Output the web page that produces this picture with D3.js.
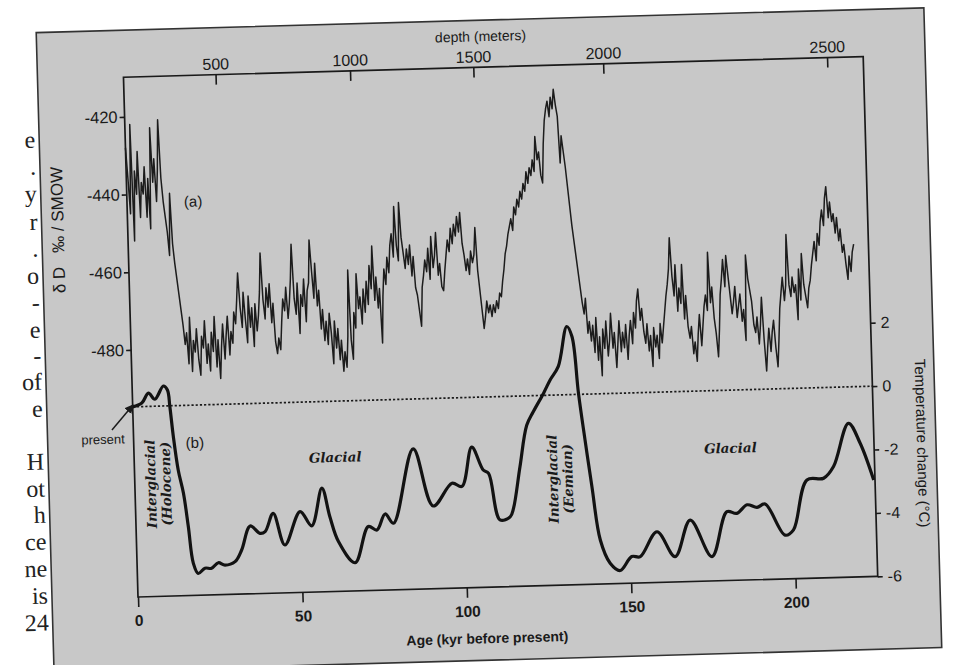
<!DOCTYPE html>
<html><head><meta charset="utf-8">
<script src="https://cdnjs.cloudflare.com/ajax/libs/d3/7.8.5/d3.min.js"></script>
<style>body{margin:0;background:#fff}svg{display:block}</style>
</head><body>
<svg id="c" width="958" height="665"></svg>
<script>
// ---------- data ----------
const ageTicks = [0, 50, 100, 150, 200];
const depthTicks = [500, 1000, 1500, 2000, 2500];
const depthTickAges = [28.0, 68.9, 106.4, 145.9, 214.0];
const dDTicks = [-420, -440, -460, -480];
const tempTicks = [2, 0, -2, -4, -6];

const dDAgeStart = 0, dDAgeStep = 0.5;
const dDValues = [
-428,-436,-445,-422,-452,-434,-440,-429,-446,-437,
-440,-433,-446,-436,-449,-423,-437,-431,-442,-434,
-421,-436,-442,-446,-450,-456,-440,-453,-458,-462,
-466,-470,-474,-479,-476,-484,-472,-486,-478,-481,
-475,-483,-487,-477,-480,-473,-484,-479,-486,-476,
-481,-472,-485,-478,-488,-480,-474,-483,-477,-472,
-482,-476,-479,-471,-474,-468,-461,-470,-475,-466,
-473,-479,-467,-475,-470,-480,-469,-476,-472,-466,
-456,-468,-473,-465,-470,-464,-474,-469,-479,-482,
-478,-481,-474,-468,-471,-465,-473,-469,-463,-454,
-468,-472,-464,-477,-467,-470,-463,-474,-466,-464,
-453,-461,-468,-459,-470,-466,-476,-471,-479,-474,
-480,-472,-477,-485,-474,-481,-476,-484,-479,-487,
-482,-486,-478,-461,-479,-484,-472,-476,-462,-471,
-468,-475,-466,-472,-464,-470,-460,-466,-455,-469,
-463,-471,-466,-480,-468,-461,-465,-458,-462,-455,
-452,-458,-445,-455,-459,-444,-453,-457,-461,-456,
-460,-455,-463,-458,-466,-468,-472,-476,-466,-463,
-459,-462,-456,-464,-453,-461,-458,-452,-463,-460,
-466,-467,-462,-458,-454,-457,-451,-455,-450,-453,
-448,-452,-447,-455,-458,-462,-459,-463,-457,-460,
-458,-451,-462,-467,-472,-477,-474,-470,-473,-471,
-474,-471,-473,-470,-472,-468,-469,-465,-462,-458,
-456,-453,-451,-449,-452,-446,-448,-444,-446,-442,
-444,-440,-442,-437,-440,-436,-438,-434,-437,-428,
-434,-432,-438,-440,-430,-424,-421,-419,-423,-418,
-421,-416,-420,-423,-435,-428,-432,-436,-441,-446,
-451,-455,-459,-463,-467,-471,-474,-470,-479,-476,
-481,-477,-484,-475,-486,-480,-490,-478,-483,-476,
-485,-481,-474,-483,-479,-488,-482,-476,-484,-479,
-483,-477,-486,-480,-476,-482,-474,-478,-471,-468,
-476,-473,-479,-482,-477,-484,-480,-488,-478,-483,
-480,-486,-477,-482,-478,-474,-470,-467,-463,-455,
-465,-470,-462,-474,-468,-472,-462,-476,-470,-478,
-481,-478,-485,-482,-487,-480,-475,-483,-478,-473,
-470,-474,-459,-472,-468,-476,-480,-486,-479,-470,
-466,-461,-468,-460,-465,-470,-475,-472,-468,-476,
-473,-470,-477,-474,-482,-460,-466,-469,-472,-478,
-480,-476,-483,-478,-471,-482,-490,-484,-479,-485,
-480,-477,-484,-489,-482,-474,-470,-466,-472,-468,
-455,-468,-471,-466,-470,-468,-477,-464,-472,-460,
-468,-471,-474,-469,-467,-463,-460,-457,-462,-455,
-458,-452,-449,-453,-446,-443,-451,-447,-452,-450,
-455,-451,-457,-454,-460,-458,-463,-467,-461,-465,
-460,-458
];

const tempAges = [0,2.8,4.9,6.8,9.5,10.7,11.3,12.1,13.3,14.7,15.9,17.1,18.5,20.6,22.6,24.7,26.7,29.8,31.9,34.7,
37.6,39.2,41.8,45.1,50.0,53.4,56.8,59.0,61.4,66.3,70.6,73.2,75.8,78.3,84.9,90.5,96.4,99.4,102.7,106.0,
107.6,110.7,113.8,114.9,117.2,119.6,121.7,125.0,127.1,129.7,132.6,134.1,135.6,137.2,138.9,141.0,143.8,146.8,150.4,153.0,
158.3,163.6,168.5,174.8,179.7,182.7,185.9,188.9,191.4,197.2,199.8,204.3,209.4,212.5,217.4,220.8,224.6];
const tempValues = [0.0,0.11,0.42,0.22,0.63,0.50,-0.03,-0.97,-2.03,-2.77,-3.83,-4.98,-5.31,-5.15,-5.16,-4.99,-5.07,-4.97,-4.61,-3.86,
-4.10,-4.05,-3.48,-4.49,-3.45,-3.91,-2.73,-3.64,-4.43,-5.11,-3.98,-4.10,-3.60,-3.90,-1.57,-3.39,-2.69,-2.80,-1.57,-2.30,
-2.41,-3.89,-3.80,-3.53,-2.23,-0.93,-0.51,0.07,0.48,0.90,2.15,1.83,0.04,-1.44,-2.92,-4.61,-5.35,-5.59,-5.16,-5.17,
-4.40,-5.20,-4.06,-5.23,-3.83,-3.89,-3.63,-3.72,-3.62,-4.62,-4.46,-2.90,-2.86,-2.50,-1.15,-1.79,-2.96];

const pageText = ["e",".","y","r",".","o","-","e","-","of","e","H","ot","h","ce","ne","is","24"];
const pageTextY = [145,172,199,227,254,281,308,335,361,387,414,467,494,520,547,574,601,628];

// ---------- layout ----------
const L = 138, R = 878, T = 77, B = 597;
const ink = "#1a1a1a";
const svg = d3.select("#c");
const g = svg.append("g").attr("transform", `rotate(-1.6, ${L}, ${B})`);

const x = d3.scaleLinear().domain([0, 225]).range([L, R]);
const yD = d3.scaleLinear().domain([-543.6, -409.8]).range([B, T]);
const yT = d3.scaleLinear().domain([-6, 10.4]).range([B, T]);
const depthScale = d3.scaleLinear().domain(depthTicks).range(depthTickAges.map(a => x(a)));

// scanned figure panel
g.append("rect").attr("x", 52).attr("y", 30).attr("width", 888).attr("height", 640)
  .attr("fill", "#c8c8c8").attr("stroke", "#333").attr("stroke-width", 1.6);

// book text fragments at left margin
g.append("g").selectAll("text").data(pageText).join("text")
  .attr("x", 48).attr("y", (d, i) => pageTextY[i])
  .attr("text-anchor", "end")
  .attr("font-family", "'Liberation Serif', serif").attr("font-size", 24)
  .attr("fill", "#222").text(d => d);

// inner frame
g.append("rect").attr("x", L).attr("y", T).attr("width", R - L).attr("height", B - T)
  .attr("fill", "none").attr("stroke", ink).attr("stroke-width", 1.7);

const sans = "'Liberation Sans', Arial, sans-serif";
function styleAxis(sel, bold, size) {
  sel.select(".domain").remove();
  sel.selectAll(".tick line").attr("stroke", ink).attr("stroke-width", 1.6);
  sel.selectAll(".tick text").attr("fill", ink)
    .attr("font-family", sans)
    .attr("font-size", size).attr("font-weight", bold ? "bold" : "normal");
}

g.append("g").attr("transform", `translate(${L},0)`)
  .call(d3.axisLeft(yD).tickValues(dDTicks).tickSize(5).tickPadding(2).tickFormat(d => String(d)))
  .call(s => styleAxis(s, false, 16.5));
g.append("g").attr("transform", `translate(${R},0)`)
  .call(d3.axisRight(yT).tickValues(tempTicks).tickSize(5).tickPadding(5).tickFormat(d => String(d)))
  .call(s => styleAxis(s, false, 16));
g.append("g").attr("transform", `translate(0,${B})`)
  .call(d3.axisBottom(x).tickValues(ageTicks).tickSize(10).tickPadding(8).tickFormat(d => String(d)))
  .call(s => styleAxis(s, true, 15.5));
g.append("g").attr("transform", `translate(0,${T})`)
  .call(d3.axisTop(depthScale).tickValues(depthTicks).tickSize(-10).tickPadding(5).tickFormat(d => String(d)))
  .call(s => styleAxis(s, false, 16));

// axis titles
g.append("text").attr("x", 496).attr("y", 51).attr("text-anchor", "middle")
  .attr("font-family", sans).attr("font-size", 14).attr("fill", ink).text("depth (meters)");
g.append("text").attr("x", 486).attr("y", 653).attr("text-anchor", "middle")
  .attr("font-family", sans).attr("font-size", 14).attr("font-weight", "bold").attr("fill", ink)
  .text("Age (kyr before present)");
const lt = g.append("text").attr("transform", "translate(74,228) rotate(-90)").attr("text-anchor", "middle")
  .attr("font-family", sans).attr("font-size", 17).attr("fill", ink);
lt.append("tspan").text("δ D");
lt.append("tspan").attr("dx", 14).text("‰ / SMOW");
g.append("text").attr("transform", "translate(921,465) rotate(90)").attr("text-anchor", "middle")
  .attr("font-family", sans).attr("font-size", 15).attr("fill", ink).text("Temperature change (°C)");

// zero line
g.append("line").attr("x1", x(0)).attr("x2", x(225)).attr("y1", yT(0)).attr("y2", yT(0))
  .attr("stroke", ink).attr("stroke-width", 1.7).attr("stroke-dasharray", "2.2,2");

// deuterium series (a)
const dDData = dDValues.map((v, i) => ({ age: dDAgeStart + i * dDAgeStep, v }));
g.append("path").datum(dDData)
  .attr("d", d3.line().x(d => x(d.age)).y(d => yD(d.v)))
  .attr("fill", "none").attr("stroke", "#1c1c1c").attr("stroke-width", 1.5).attr("stroke-linejoin", "round");

// temperature series (b)
const tData = tempAges.map((a, i) => ({ age: a, t: tempValues[i] }));
g.append("path").datum(tData)
  .attr("d", d3.line().x(d => x(d.age)).y(d => yT(d.t)).curve(d3.curveCatmullRom.alpha(0.5)))
  .attr("fill", "none").attr("stroke", "#121212").attr("stroke-width", 3.2).attr("stroke-linejoin", "round");

// annotations
g.append("text").attr("x", x(20.1)).attr("y", yD(-442.3) + 5).attr("text-anchor", "middle")
  .attr("font-family", sans).attr("font-size", 15).attr("fill", ink).text("(a)");
g.append("text").attr("x", x(18.6)).attr("y", yT(-1.19) + 5).attr("text-anchor", "middle")
  .attr("font-family", sans).attr("font-size", 15).attr("fill", ink).text("(b)");
g.append("text").attr("x", x(-9.3)).attr("y", yT(-1.02) + 4).attr("text-anchor", "middle")
  .attr("font-family", sans).attr("font-size", 13).attr("fill", ink).text("present");

const defs = svg.append("defs");
defs.append("marker").attr("id", "ah").attr("viewBox", "0 0 10 10").attr("refX", 9).attr("refY", 5)
  .attr("markerWidth", 9).attr("markerHeight", 9).attr("markerUnits", "userSpaceOnUse").attr("orient", "auto")
  .append("path").attr("d", "M0,0 L10,5 L0,10 z").attr("fill", ink);
g.append("line").attr("x1", x(-6.5)).attr("y1", yT(-0.71)).attr("x2", x(0.1)).attr("y2", yT(0.06))
  .attr("stroke", ink).attr("stroke-width", 1.5).attr("marker-end", "url(#ah)");

const serif = "'DejaVu Serif', 'Liberation Serif', serif";
function vlabel(age, t, l1, l2) {
  const tg = g.append("g").attr("transform", `translate(${x(age)},${yT(t)}) rotate(-90)`);
  [l1, l2].forEach((s, i) => tg.append("text").attr("x", 0).attr("y", i === 0 ? -2.5 : 12.5)
    .attr("text-anchor", "middle").attr("font-family", serif).attr("font-style", "italic")
    .attr("font-weight", "bold").attr("font-size", 13.5).attr("fill", ink).text(s));
}
vlabel(7.1, -2.45, "Interglacial", "(Holocene)");
vlabel(129.3, -2.65, "Interglacial", "(Eemian)");
[[61.1, -1.76], [181.3, -1.82]].forEach(p => g.append("text").attr("x", x(p[0])).attr("y", yT(p[1]) + 5)
  .attr("text-anchor", "middle").attr("font-family", serif).attr("font-style", "italic")
  .attr("font-weight", "bold").attr("font-size", 13.5).attr("fill", ink).text("Glacial"));
</script>
</body></html>
